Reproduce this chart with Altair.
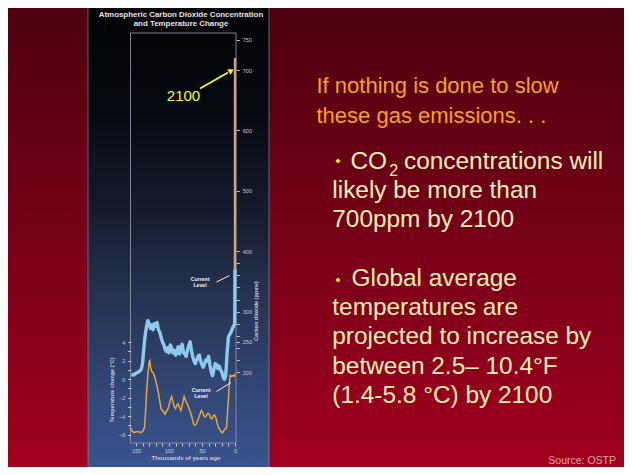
import altair as alt
import pandas as pd

# ---------------- data ----------------
# CO2 (ppmv) vs thousands of years ago, Vostok record
co2_kyr = [157, 154, 150, 146, 142, 140, 138, 136, 134, 132, 130, 128, 126, 124, 122,
           120, 118, 116, 114, 112, 110, 108, 106, 104, 102, 100, 98, 96, 94, 92, 90,
           88, 86, 84, 82, 80, 78, 76, 74, 72, 70, 68, 66, 64, 62, 60, 58, 56, 54, 52,
           50, 48, 46, 44, 42, 40, 38, 36, 34, 32, 30, 28, 26, 24, 22, 20, 18, 16, 14,
           12, 10, 8, 6, 4, 2, 0.4, 0]
co2_ppm = [196, 195, 198, 200, 204, 215, 240, 262, 275, 285, 280, 272, 278, 270, 280,
           276, 282, 270, 266, 258, 250, 246, 238, 234, 240, 232, 245, 240, 232, 236, 228,
           234, 242, 230, 240, 246, 232, 230, 226, 236, 244, 250, 236, 226, 218, 214, 220,
           226, 228, 218, 212, 208, 214, 220, 218, 226, 212, 200, 194, 204, 214, 212, 206,
           210, 204, 200, 192, 188, 194, 230, 258, 262, 266, 272, 276, 280, 370]
# projection to 2100
proj_kyr = [0, -0.1]
proj_ppm = [370, 720]

# temperature change (deg C) vs thousands of years ago
temp_kyr = [159, 156, 153, 150, 146, 142, 139, 137, 135, 134, 132, 130, 129, 128, 126,
            124, 122, 120, 118, 116, 114, 112, 110, 108, 106, 104, 102, 100, 98, 96, 94,
            92, 90, 88, 86, 84, 82, 80, 78, 77, 75, 73, 71, 69, 67, 65, 63, 61, 59, 57,
            55, 53, 51, 49, 47, 45, 43, 41, 39, 37, 35, 33, 31, 29, 27, 25, 23, 21, 19,
            17, 15, 13, 12, 11, 10, 9, 8, 7, 5, 3, 1, 0]
temp_c = [-5.2, -5.6, -5.8, -5.7, -5.7, -5.8, -5.6, -5.2, -3.0, -1.5, 0.5, 1.9, 2.0, 1.3,
          0.8, 0.7, 0.3, -0.2, -0.8, -1.5, -2.4, -3.2, -3.4, -3.6, -3.8, -3.5, -3.3, -2.9,
          -2.3, -1.9, -2.4, -3.0, -3.2, -2.8, -2.7, -3.1, -3.4, -2.9, -2.2, -1.9, -2.3,
          -2.6, -2.9, -3.3, -3.7, -4.2, -4.8, -5.0, -4.9, -4.6, -4.2, -3.8, -3.4, -3.6,
          -4.0, -4.1, -3.9, -3.7, -3.8, -4.2, -4.3, -4.0, -3.9, -4.2, -4.8, -5.2, -5.5,
          -5.7, -5.8, -5.6, -5.4, -5.3, -4.5, -3.2, -2.3, -1.0, 0.0, 0.4, 0.3, 0.4, 0.3, 0.6]

co2_ticks = [200, 220, 240, 250, 260, 280, 300, 320, 340, 360, 380, 400, 500, 600, 700, 750]
co2_labels = [200, 250, 300, 400, 500, 600, 700, 750]
temp_ticks = [-6, -5, -4, -3, -2, -1, 0, 1, 2, 3, 4]
year_ticks = [150, 140, 130, 120, 110, 100, 90, 80, 70, 60, 50, 40, 30, 20, 10, 0]

chart_title = ["Atmospheric Carbon Dioxide Concentration", "and Temperature Change"]
heading = ["If nothing is done to slow", "these gas emissions. . ."]
bullet1 = ["likely be more than", "700ppm by 2100"]
bullet2 = ["Global average", "temperatures are", "projected to increase by",
           "between 2.5\u2013 10.4\u00b0F", "(1.4-5.8 \u00b0C) by 2100"]

# ---------------- layout helpers ----------------
W, H = 616, 459
OX, OY = 8, 8


def px(X):
    return X - OX


def py(Y):
    return Y - OY


ONE = pd.DataFrame({"k": [0]})
BODY = "Liberation Sans, Arial, sans-serif"
AX_COL = "#c4ccdc"


def text(s, X, Y, size, color, font=BODY, weight="normal", align="left",
         angle=0, baseline="alphabetic"):
    return [alt.Chart(ONE).mark_text(
        text=s, fontSize=size, color=color, font=font, fontWeight=weight,
        align=align, baseline=baseline, angle=angle
    ).encode(x=alt.value(px(X)), y=alt.value(py(Y)))]


def rule(X1, Y1, X2, Y2, color, width):
    return alt.Chart(ONE).mark_rule(color=color, strokeWidth=width).encode(
        x=alt.value(px(X1)), y=alt.value(py(Y1)), x2=alt.value(px(X2)), y2=alt.value(py(Y2)))


def point(X, Y, shape, angle, color, size):
    return alt.Chart(ONE).mark_point(shape=shape, filled=True, color=color,
                                     size=size, angle=angle, opacity=1).encode(
        x=alt.value(px(X)), y=alt.value(py(Y)))


layers = []

# slide background (red gradient)
red_grad = alt.LinearGradient(gradient="linear", x1=0, x2=0, y1=0, y2=1, stops=[
    alt.GradientStop(color="#4e000f", offset=0),
    alt.GradientStop(color="#760018", offset=0.5),
    alt.GradientStop(color="#a2001e", offset=1)])
layers.append(alt.Chart(ONE).mark_rect(color=red_grad).encode(
    x=alt.value(0), x2=alt.value(W), y=alt.value(0), y2=alt.value(H)))

# chart panel (dark navy gradient)
blue_grad = alt.LinearGradient(gradient="linear", x1=0, x2=0, y1=0, y2=1, stops=[
    alt.GradientStop(color="#020204", offset=0),
    alt.GradientStop(color="#070910", offset=0.22),
    alt.GradientStop(color="#151c2e", offset=0.45),
    alt.GradientStop(color="#25324f", offset=0.62),
    alt.GradientStop(color="#30446f", offset=0.8),
    alt.GradientStop(color="#3a5490", offset=1)])
layers.append(alt.Chart(ONE).mark_rect(color=blue_grad, stroke="#9a9aa4",
                                       strokeWidth=0.6).encode(
    x=alt.value(px(88)), x2=alt.value(px(269)), y=alt.value(-1), y2=alt.value(H + 1)))

# chart title
layers += text(chart_title[0], 181, 17, 7.9, "#e4e4ec", weight="bold", align="center")
layers += text(chart_title[1], 181, 25.5, 7.9, "#e4e4ec", weight="bold", align="center")

# plot frame
layers.append(alt.Chart(ONE).mark_rect(fill="transparent", stroke="#8c92a4",
                                       strokeWidth=0.9).encode(
    x=alt.value(px(130.5)), x2=alt.value(px(236)), y=alt.value(py(33)), y2=alt.value(py(443))))

# scales
X_SCALE = alt.Scale(domain=[-2, 158], range=[px(236.3), px(130.7)], nice=False, zero=False)
CO2_SCALE = alt.Scale(domain=[83, 762], range=[py(442.7), py(32.6)], nice=False, zero=False)
T_SCALE = alt.Scale(domain=[-7, 4.5], range=[py(443.75), py(337.4)], nice=False, zero=False)

x_axis = alt.Axis(orient="bottom", offset=-(H - py(443)), values=year_ticks,
                  labelExpr="datum.value % 50 == 0 ? datum.label : ''",
                  title=None, grid=False, domain=False, tickSize=3, tickColor=AX_COL,
                  labelColor=AX_COL, labelFontSize=5.5, labelPadding=2, labelFont=BODY,
                  zindex=2)

co2_df = pd.DataFrame({"kyr": co2_kyr, "ppm": co2_ppm})
proj_df = pd.DataFrame({"kyr": proj_kyr, "ppm": proj_ppm})
temp_df = pd.DataFrame({"kyr": temp_kyr, "temp": temp_c})

co2_line = alt.Chart(co2_df).mark_line(color="#8dcbec", strokeWidth=3.4,
                                        strokeJoin="round").encode(
    x=alt.X("kyr:Q", scale=X_SCALE, axis=x_axis),
    y=alt.Y("ppm:Q", scale=CO2_SCALE, axis=alt.Axis(
        orient="right", offset=-(W - px(236.3)), values=co2_ticks,
        labelExpr="indexof([" + ",".join(str(v) for v in co2_labels) + "], datum.value) >= 0 ? datum.label : ''",
        title=None, grid=False, domain=False, tickSize=3, tickColor=AX_COL,
        labelColor=AX_COL, labelFontSize=5.5, labelPadding=3, labelFont=BODY, zindex=2)))

proj_line = alt.Chart(proj_df).mark_line(color="#cfa47a", strokeWidth=2.4).encode(
    x=alt.X("kyr:Q", scale=X_SCALE, axis=x_axis),
    y=alt.Y("ppm:Q", scale=CO2_SCALE, axis=None))

temp_line = alt.Chart(temp_df).mark_line(color="#e6a63c", strokeWidth=1.5).encode(
    x=alt.X("kyr:Q", scale=X_SCALE, axis=x_axis),
    y=alt.Y("temp:Q", scale=T_SCALE, axis=alt.Axis(
        orient="left", offset=-px(130.7), values=temp_ticks,
        labelExpr="datum.value % 2 == 0 ? datum.label : ''",
        title=None, grid=False, domain=False, tickSize=3, tickColor=AX_COL,
        labelColor=AX_COL, labelFontSize=5.5, labelPadding=3, labelFont=BODY, zindex=2)))

layers += [co2_line, temp_line, proj_line]

# axis titles
layers += text("Thousands of years ago", 186, 458, 6, AX_COL, weight="bold",
               align="center", baseline="middle")
layers += text("Temperature change (\u00b0C)", 112, 390, 5.5, AX_COL, weight="bold",
               align="center", baseline="middle", angle=270)
layers += text("Carbon dioxide (ppmv)", 256, 311, 5.5, AX_COL, weight="bold",
               align="center", baseline="middle", angle=270)

# "Current Level" annotations
for (tx, ty, a1, a2) in [(200, 279, (216.5, 282), (229.5, 275.5)),
                         (201, 390, (216.5, 391.5), (231, 382.5))]:
    layers += text("Current", tx, ty, 5.2, "#f2f2f2", weight="bold", align="center",
                   baseline="middle")
    layers += text("Level", tx, ty + 5.5, 5.2, "#f2f2f2", weight="bold", align="center",
                   baseline="middle")
    layers.append(rule(a1[0], a1[1], a2[0], a2[1], "#f2f2f2", 1))

# 2100 arrow
layers += text("2100", 183.5, 101, 15, "#ffff00", align="center")
layers.append(rule(200, 88.5, 228, 72.5, "#ffff00", 1.8))
layers.append(point(230.5, 71, "triangle", 60, "#ffff00", 40))

# right-hand slide text
HEAD_COL = "#f4a31e"
BODY_COL = "#f8f0b2"
FS = 24.4
layers += text(heading[0], 316.5, 93.3, 22, HEAD_COL)
layers += text(heading[1], 316.5, 123.3, 22, HEAD_COL)

layers.append(point(338, 161, "diamond", 0, "#ffff00", 26))
layers.append(point(338, 280, "diamond", 0, "#ffff00", 26))

layers += text("CO", 350.5, 169.3, FS, BODY_COL)
layers += text("2", 389.2, 175.5, 16, BODY_COL)
layers += text("concentrations will", 404, 169.3, FS, BODY_COL)
for i, s in enumerate(bullet1):
    layers += text(s, 332.3, 198.3 + i * 28.8, FS, BODY_COL)

layers += text(bullet2[0], 351.5, 286, FS, BODY_COL)
for i, s in enumerate(bullet2[1:]):
    layers += text(s, 332.3, 315 + i * 29.4, FS, BODY_COL)

layers += text("Source: OSTP", 616, 464.3, 10.5, "#eaa2a2", align="right")

chart = alt.layer(*layers).resolve_scale(y="independent").properties(
    width=W, height=H, padding=0, autosize=alt.AutoSizeParams(type="none"),
    background="white"
).configure_view(stroke=None)

chart.save("out.html", embed_options={"renderer": "svg", "actions": False})
